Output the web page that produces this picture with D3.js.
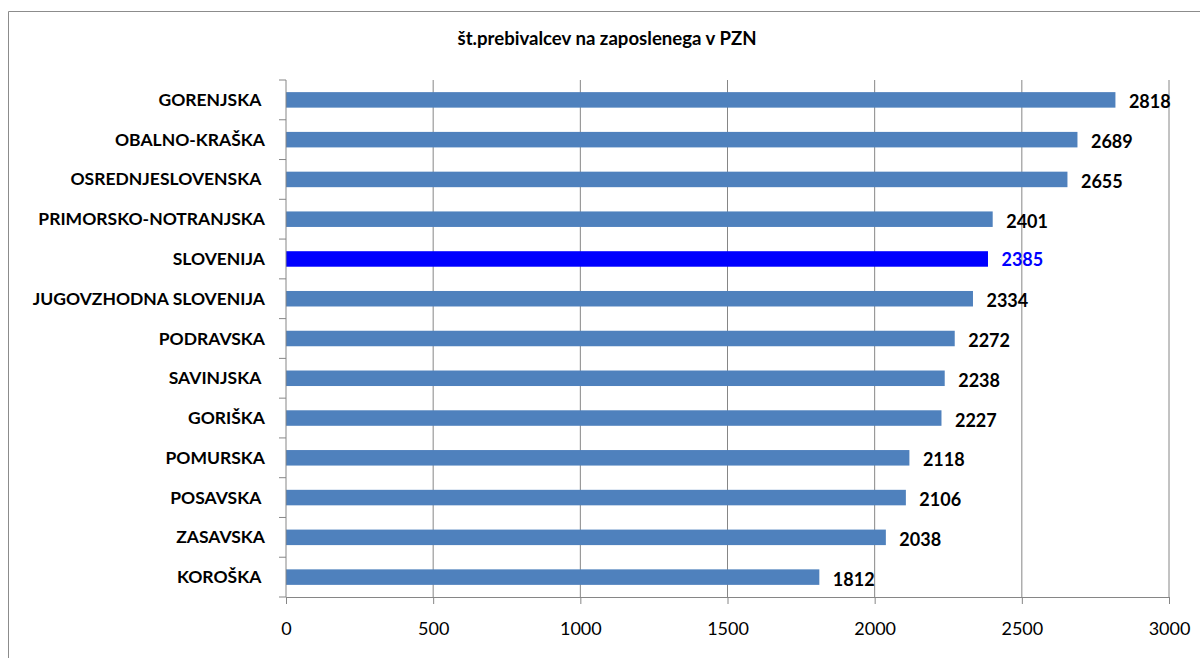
<!DOCTYPE html>
<html>
<head>
<meta charset="utf-8">
<script src="https://cdn.jsdelivr.net/npm/d3@7"></script>
<style>
  body { margin: 0; background: #fff; }
  svg { display: block; font-family: Lato, "Open Sans", sans-serif; }
  .cat text { white-space: pre; }
</style>
</head>
<body>
<svg></svg>
<script>
const regions = ['GORENJSKA ', 'OBALNO-KRAŠKA', 'OSREDNJESLOVENSKA ', 'PRIMORSKO-NOTRANJSKA',
  'SLOVENIJA', 'JUGOVZHODNA SLOVENIJA', 'PODRAVSKA', 'SAVINJSKA ', 'GORIŠKA',
  'POMURSKA', 'POSAVSKA ', 'ZASAVSKA', 'KOROŠKA '];
const values = [2818, 2689, 2655, 2401, 2385, 2334, 2272, 2238, 2227, 2118, 2106, 2038, 1812];
const xTicks = [0, 500, 1000, 1500, 2000, 2500, 3000];
const highlight = 'SLOVENIJA';

const width = 1201, height = 659;
const margin = {top: 80, right: 32, bottom: 62, left: 286};
const innerWidth = width - margin.left - margin.right;
const innerHeight = height - margin.top - margin.bottom;

const svg = d3.select('svg')
    .attr('width', width)
    .attr('height', height);

// outer chart frame (only top and left edges are visible)
svg.append('path')
    .attr('d', `M${width - 1},11.5H8.5V${height - 1}`)
    .attr('fill', 'none')
    .attr('stroke', '#8c8c8c');

svg.append('text')
    .attr('x', 607).attr('y', 45)
    .attr('text-anchor', 'middle')
    .attr('font-size', 18.6)
    .attr('font-weight', 'bold')
    .text('št.prebivalcev na zaposlenega v PZN');

const x = d3.scaleLinear().domain([0, 3000]).range([0, innerWidth]);
const y = d3.scaleBand().domain(regions).range([0, innerHeight]).paddingInner(0.61).paddingOuter(0.305);
const yLine = d3.scaleLinear().domain([0, regions.length]).range([0, innerHeight]);

const g = svg.append('g')
    .attr('transform', `translate(${margin.left},${margin.top})`);

// vertical gridlines
g.selectAll('line.grid').data(xTicks.slice(1))
    .enter().append('line')
    .attr('class', 'grid')
    .attr('x1', d => x(d)).attr('x2', d => x(d))
    .attr('y1', 0).attr('y2', innerHeight)
    .attr('stroke', '#868686');

// bars
g.selectAll('rect.bar').data(regions)
    .enter().append('rect')
    .attr('class', 'bar')
    .attr('x', 0)
    .attr('y', d => y(d))
    .attr('width', (d, i) => x(values[i]))
    .attr('height', y.bandwidth())
    .attr('fill', d => d === highlight ? '#0000ff' : '#4f81bd');

// value labels
g.selectAll('text.val').data(regions)
    .enter().append('text')
    .attr('class', 'val')
    .attr('x', (d, i) => x(values[i]) + 13.5)
    .attr('y', d => y(d) + y.bandwidth() / 2 + (d === highlight ? 7 : 8.5))
    .attr('font-size', 18)
    .attr('font-weight', 'bold')
    .attr('fill', d => d === highlight ? '#0000ff' : '#000')
    .text((d, i) => values[i]);

// x axis
const xAxis = g.append('g')
    .attr('transform', `translate(0,${innerHeight})`)
    .call(d3.axisBottom(x).tickValues(xTicks).tickFormat(d3.format('d')).tickSize(7).tickPadding(18));
xAxis.select('.domain').attr('stroke', '#868686');
xAxis.selectAll('.tick line').attr('stroke', '#868686');
xAxis.selectAll('text').attr('font-size', 18).attr('font-family', 'Lato, sans-serif').attr('fill', '#000');

// y axis with ticks at band boundaries
const yAxis = g.append('g');
yAxis.append('line')
    .attr('x1', 0).attr('x2', 0).attr('y1', 0).attr('y2', innerHeight)
    .attr('stroke', '#868686');
yAxis.selectAll('line.tk').data(d3.range(regions.length + 1))
    .enter().append('line')
    .attr('class', 'tk')
    .attr('x1', -7).attr('x2', 0)
    .attr('y1', d => yLine(d)).attr('y2', d => yLine(d))
    .attr('stroke', '#868686');

g.append('g').attr('class', 'cat')
    .selectAll('text').data(regions)
    .enter().append('text')
    .attr('x', -21)
    .attr('y', d => y(d) + y.bandwidth() / 2 + 6)
    .attr('text-anchor', 'end')
    .attr('font-size', 17.5)
    .attr('font-weight', 'bold')
    .text(d => d);
</script>
</body>
</html>
